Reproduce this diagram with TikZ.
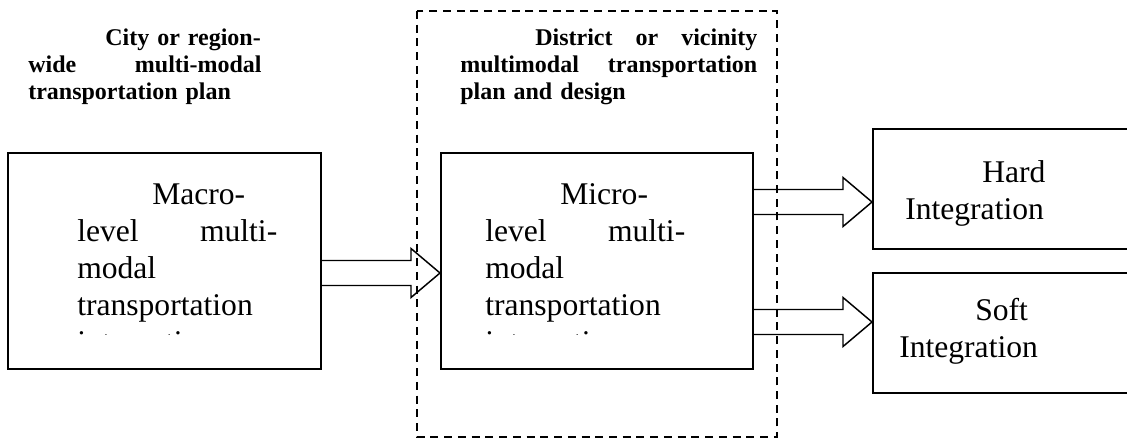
\documentclass[tikz,border=0pt]{standalone}
\usepackage{fontspec}
\setmainfont{Liberation Serif}
\usetikzlibrary{calc,fit}

% hollow block arrow from the east side of #1 to the west side of #2 at height #3
\newcommand{\blockarrow}[3]{%
	\coordinate (tail) at (#1.east |- 0,#3);
	\coordinate (tip) at (#2.west |- 0,#3);
	\draw[arrowline] ($(tail)+(0,-12.5)$) -- ($(tip)+(-29,-12.5)$) -- ($(tip)+(-29,-24.5)$) -- (tip) -- ($(tip)+(-29,24.5)$) -- ($(tip)+(-29,12.5)$) -- ($(tail)+(0,12.5)$);
}

\begin{document}
\begin{tikzpicture}[x=0.75pt, y=-0.75pt,
	box/.style={draw, line width=1.5pt, inner sep=0pt},
	arrowline/.style={line width=1.1pt, line join=miter},
	heading/.style={font=\fontsize{18}{20.6}\selectfont\bfseries, inner sep=0pt, align=left, anchor=base west},
	boxtext/.style={font=\fontsize{23.7}{27.8}\selectfont, inner sep=0pt, align=left, anchor=base west}]
\useasboundingbox (0,0) rectangle (1127,443);
\fill[white] (0,0) rectangle (1127,443);

% district scope
\draw[line width=1.5pt, dash pattern=on 6pt off 4.3pt] (417,11) rectangle (777,437);

\node[heading, text width=175pt] (cityplan) at (28,45) {\hspace*{57.75pt}City~or~region-\\ wide\hfill multi-modal\\ transportation plan};
\node[heading, text width=222.75pt] (districtplan) at (460,45) {\hspace*{56.25pt}District\hfill or\hfill vicinity\\ multimodal\hfill transportation\\ plan and design};

% boxes
\node[box, fit={(8,153) (321,369)}] (macro) {};
\node[box, fit={(441,153) (753,369)}] (micro) {};
\node[box, fit={(873,129) (1140,249)}] (hard) {};
\node[box, fit={(873,273) (1140,393)}] (soft) {};

\begin{scope}
	\clip (macro.north west) rectangle (macro.east |- 0,334);
	\node[boxtext, text width=150pt] (macrotext) at (77,204) {\hspace*{56.25pt}Macro-\\ level\hfill multi-\\ modal\\ transportation\\ integration};
\end{scope}
\begin{scope}
	\clip (micro.north west) rectangle (micro.east |- 0,334);
	\node[boxtext, text width=150pt] (microtext) at (485,204) {\hspace*{56.25pt}Micro-\\ level\hfill multi-\\ modal\\ transportation\\ integration};
\end{scope}
\node[boxtext, text width=120pt] (hardtext) at (905,182) {\hspace*{57.75pt}Hard\\ Integration};
\node[boxtext, text width=120pt] (softtext) at (899,320) {\hspace*{57pt}Soft\\ Integration};

% arrows
\blockarrow{macro}{micro}{273}
\blockarrow{micro}{hard}{202}
\blockarrow{micro}{soft}{322}
\end{tikzpicture}
\end{document}
